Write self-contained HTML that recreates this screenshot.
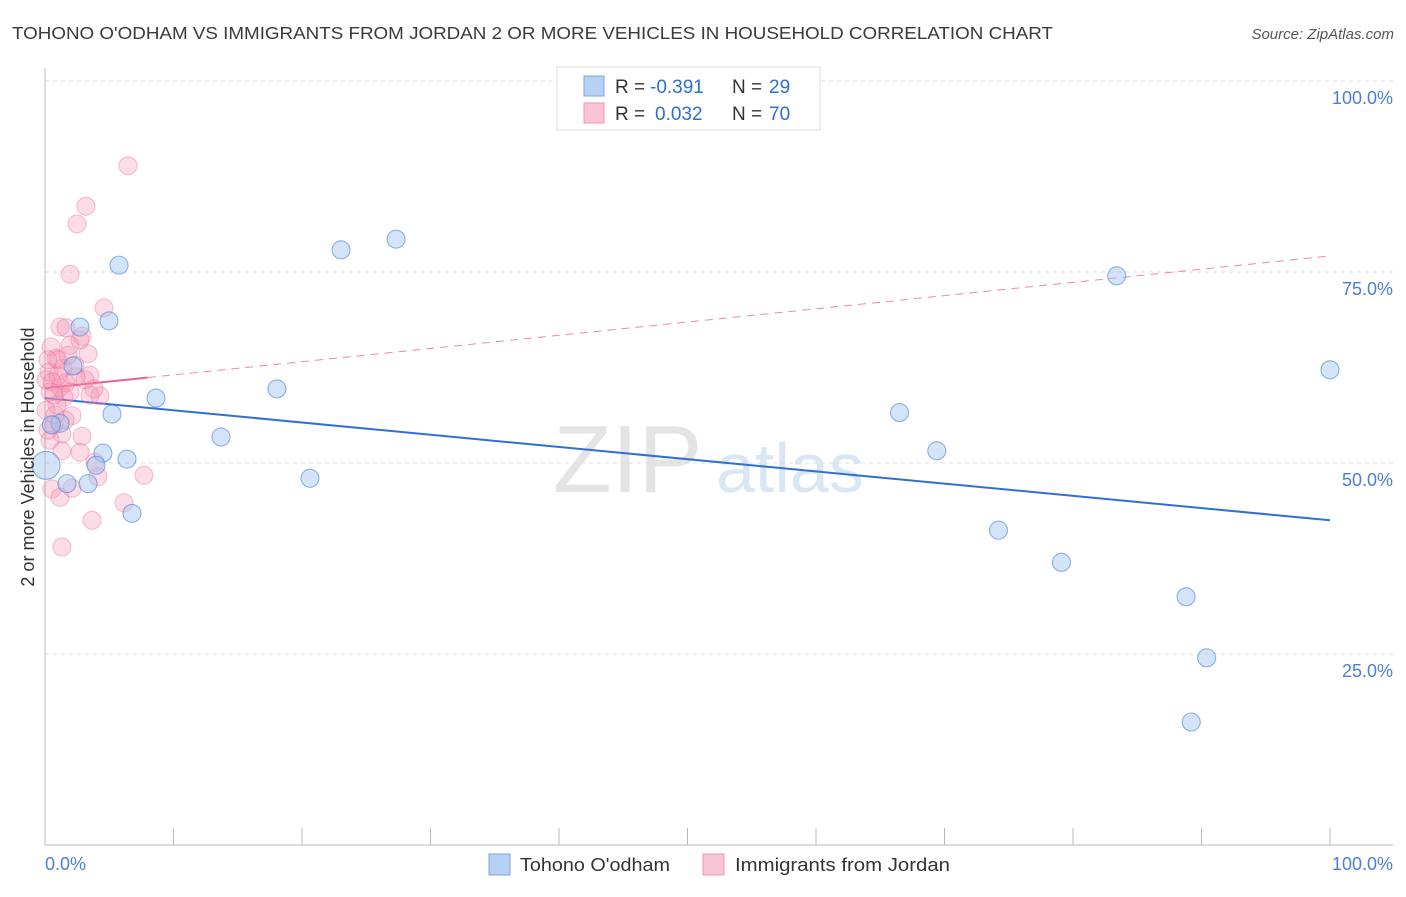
<!DOCTYPE html>
<html><head><meta charset="utf-8">
<style>
body{margin:0;background:#fff;font-family:"Liberation Sans",sans-serif;}
svg text{font-family:"Liberation Sans",sans-serif;}
</style></head>
<body>
<svg id="chart" width="1406" height="892" xmlns="http://www.w3.org/2000/svg">
<text x="12" y="39" font-size="17.5" fill="#3a3a3a" textLength="1041" lengthAdjust="spacingAndGlyphs">TOHONO O'ODHAM VS IMMIGRANTS FROM JORDAN 2 OR MORE VEHICLES IN HOUSEHOLD CORRELATION CHART</text>
<text x="1394" y="39" font-size="15" fill="#555" font-style="italic" text-anchor="end">Source: ZipAtlas.com</text>
<text x="553" y="492" font-size="96" fill="#e4e4e4" font-family="Liberation Serif">ZIP</text>
<text x="716" y="492" font-size="70" fill="#dbe6f5">atlas</text>
<g id="grid"></g>
<g id="axes"></g>
<g id="trends"></g>
<g id="points"></g>
<text transform="translate(34,457) rotate(-90)" font-size="18" fill="#333" text-anchor="middle">2 or more Vehicles in Household</text>
<text x="45" y="870" font-size="18" fill="#4a7fd6">0.0%</text>
<text x="1393" y="870" font-size="18" fill="#4a7fd6" text-anchor="end">100.0%</text>
<g>
<rect x="557" y="67" width="263" height="63" fill="#fff" stroke="#ddd"/>
<rect x="584" y="76" width="20" height="20" fill="#b7d1f3" stroke="#7aa5e0"/>
<rect x="584" y="103" width="20" height="20" fill="#f8c4d5" stroke="#ee97b5"/>
<text x="615" y="93" font-size="19" fill="#333">R =</text>
<text x="650" y="93" font-size="19" fill="#2c6fd6">-0.391</text>
<text x="732" y="93" font-size="19" fill="#333">N =</text>
<text x="769" y="93" font-size="19" fill="#2c6fd6">29</text>
<text x="615" y="120" font-size="19" fill="#333">R =</text>
<text x="655" y="120" font-size="19" fill="#2c6fd6">0.032</text>
<text x="732" y="120" font-size="19" fill="#333">N =</text>
<text x="769" y="120" font-size="19" fill="#2c6fd6">70</text>
</g>
<g>
<rect x="489" y="854" width="21" height="21" fill="#b7d1f3" stroke="#7aa5e0"/>
<text x="520" y="871" font-size="18" fill="#333" textLength="150" lengthAdjust="spacingAndGlyphs">Tohono O'odham</text>
<rect x="703" y="854" width="21" height="21" fill="#f8c4d5" stroke="#ee97b5"/>
<text x="735" y="871" font-size="18" fill="#333" textLength="215" lengthAdjust="spacingAndGlyphs">Immigrants from Jordan</text>
</g>
</svg>
<script>
const yTicks=[25,50,75,100];
const yTickLabels=["25.0%","50.0%","75.0%","100.0%"];
const xTicks=[0,10,20,30,40,50,60,70,80,90,100];
const blueX=[5.76,4.98,2.72,8.64,5.21,2.18,18.05,13.7,23.04,27.32,6.38,4.51,3.97,3.35,1.71,6.77,20.62,1.17,0.08,66.5,69.4,83.4,100,74.2,79.1,88.8,90.4,89.2,0.5];
const blueY=[75.9,68.6,67.8,58.5,56.4,62.7,59.7,53.4,77.9,79.3,50.5,51.3,49.7,47.3,47.3,43.4,48.0,55.2,49.7,56.6,51.6,74.5,62.2,41.2,37.0,32.5,24.5,16.1,55.0];
const pinkX=[6.46,3.19,2.49,1.95,4.59,1.17,1.63,2.88,0.47,1.95,3.35,0.86,1.4,0.31,3.5,2.41,0.54,1.63,1.17,3.81,0.39,4.28,1.48,0.93,0.08,2.1,0.7,1.32,2.88,0.39,2.72,1.32,3.89,0.54,2.1,4.12,7.7,1.17,6.15,3.66,1.32,2.72,1.01,1.95,3.11,0.78,1.56,0.23,2.33,1.79,1.01,3.5,0.08,0.7,0.23];
const pinkY=[88.9,83.6,81.3,74.7,70.3,67.8,67.7,66.6,65.2,65.4,64.3,63.7,62.4,61.9,61.5,61.3,60.6,60.5,59.9,59.7,59.3,58.8,58.6,57.6,56.9,56.2,55.0,53.8,53.5,53.0,51.4,51.6,50.1,46.6,46.7,48.2,48.4,45.5,44.8,42.5,39.0,66.1,63.5,59.3,60.9,56.3,55.6,54.3,62.8,64.1,61.4,58.9,60.9,58.9,63.5];
const blueTrend=[58.5,42.5];
const pinkTrend=[59.8,77.1];
const NS="http://www.w3.org/2000/svg";
const sx=v=>45+v*12.85, sy=v=>845-v*7.64;
function mk(tag,attrs,parent){const e=document.createElementNS(NS,tag);for(const k in attrs)e.setAttribute(k,attrs[k]);document.getElementById(parent).appendChild(e);return e;}
yTicks.forEach((t,i)=>{
 const l=mk('line',{x1:45,x2:1393,y1:sy(t),y2:sy(t),stroke:'#dcdcdc','stroke-dasharray':'4,4'},'grid');
 
 
 const tx=mk('text',{x:1393,y:sy(t)+23,'font-size':18,fill:'#4a7fd6','text-anchor':'end'},'grid');
 tx.textContent=yTickLabels[i];
 
 
});
let a=mk('line',{x1:45,x2:45,y1:68,y2:845,stroke:'#bbb'},'axes');


a=mk('line',{x1:45,x2:1393,y1:845,y2:845,stroke:'#bbb'},'axes');


xTicks.forEach(t=>{const l=mk('line',{x1:sx(t),x2:sx(t),y1:828,y2:845,stroke:'#bbb'},'axes');
 
 });
let tl=mk('line',{x1:sx(0),y1:sy(blueTrend[0]),x2:sx(100),y2:sy(blueTrend[1]),stroke:'#2f6fd6','stroke-width':2},'trends');


const pAt=x=>pinkTrend[0]+(pinkTrend[1]-pinkTrend[0])*x/100;
tl=mk('line',{x1:sx(0),y1:sy(pAt(0)),x2:sx(8),y2:sy(pAt(8)),stroke:'#e8608e','stroke-width':2},'trends');


tl=mk('line',{x1:sx(8),y1:sy(pAt(8)),x2:sx(100),y2:sy(pAt(100)),stroke:'#e88aab','stroke-width':1,'stroke-dasharray':'8,6'},'trends');


pinkX.forEach((x,i)=>{const c=mk('circle',{cx:sx(x),cy:sy(pinkY[i]),r:9,fill:'rgba(244,143,177,0.3)',stroke:'rgba(234,100,148,0.38)','stroke-width':1.1},'points');
 
 });
blueX.forEach((x,i)=>{const c=mk('circle',{cx:sx(x),cy:sy(blueY[i]),r:(i==18?14:9),fill:'rgba(160,196,240,0.45)',stroke:'rgba(70,130,215,0.6)','stroke-width':1.1},'points');
 
 });
</script>
</body></html>
